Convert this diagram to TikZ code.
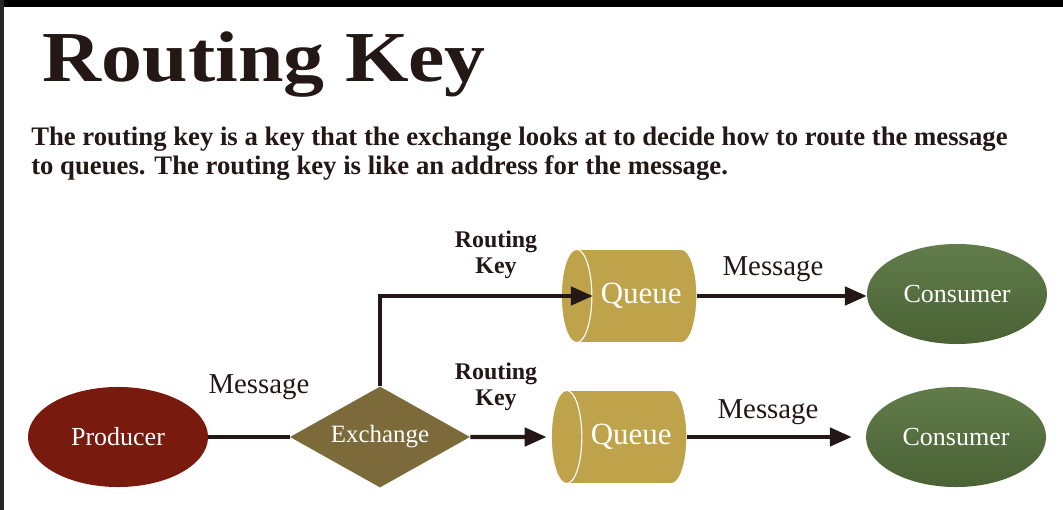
\documentclass[tikz,border=0pt]{standalone}
\usepackage{fontspec}
\setmainfont{Liberation Serif}
\newfontfamily\titlefont[FakeStretch=1.14]{Liberation Serif}
\usepackage{tikz}
\usetikzlibrary{calc}
\usetikzlibrary{positioning}
\usetikzlibrary{shapes.geometric}
\usetikzlibrary{arrows.meta}

\definecolor{ink}{HTML}{231815}
\definecolor{prodred}{HTML}{781A0D}
\definecolor{exchbrown}{HTML}{7C6A3B}
\definecolor{queuegold}{HTML}{BFA34B}
\definecolor{greentop}{HTML}{617C4A}
\definecolor{greenbot}{HTML}{4A6235}

\begin{document}
\begin{tikzpicture}[x=0.025cm,y=-0.025cm,
                    nodes={text=ink},
                    conn/.style={line width=2.85pt,draw=ink},
                    tip/.style={-{Triangle[length=15.5pt,width=13pt]}},
                    blob/.style={ellipse,minimum width=4.5cm,minimum height=2.5cm,
                                 inner sep=0pt,text=white,
                                 font=\fontsize{18.5}{20}\selectfont},
                    queuebox/.style={cylinder,shape border rotate=180,aspect=1.2,
                                     minimum width=2.33cm,minimum height=3.35cm,
                                     inner sep=0pt,fill=queuegold,draw=white,
                                     line width=0.8pt,text=white,
                                     font=\fontsize{22}{24}\selectfont},
                    msg/.style={anchor=base,font=\fontsize{20.5}{22}\selectfont},
                    rkey/.style={align=center,font=\bfseries\fontsize{17}{18.5}\selectfont}]
 \useasboundingbox (0,0) rectangle (1063,510);
 \fill[white] (0,0) rectangle (1063,510);
 \fill[black] (0,0) rectangle (1063,7);
 \fill[black!85] (0,0) rectangle (4,510);

 \node[anchor=base west,font=\titlefont\bfseries\fontsize{51}{56}\selectfont]
      (title) at (38,82) {Routing Key};
 \node[anchor=base west,align=left,inner sep=0pt,
       font=\bfseries\fontsize{19}{21.3}\selectfont] (intro) at (31,175)
      {The routing key is a key that the exchange looks at to decide how to route the message\\
       to queues. The routing key is like an address for the message.};

 \node[blob,fill=prodred] (prod) at (118,437) {Producer};
 \node[diamond,aspect=1.78,minimum width=4.5cm,minimum height=2.525cm,inner sep=0pt,
       fill=exchbrown,text=white,font=\fontsize{17.7}{19}\selectfont]
      (exch) at (380,437) {Exchange};
 \node[queuebox] (q1) at (637,296) {\hspace*{6pt}Queue};
 \node[queuebox] (q2) at (627,437) {\hspace*{6pt}Queue};
 \node[blob,top color=greentop,bottom color=greenbot] (c1) at (957,294) {Consumer};
 \node[blob,top color=greentop,bottom color=greenbot] (c2) at (956,437) {Consumer};

 \node[msg] (msgA) at (259,393) {Message};
 \node[msg] (msgB) at (773,276) {Message};
 \node[msg] (msgC) at (768,418) {Message};
 \node[rkey] (keyA) at (496,255) {Routing\\Key};
 \node[rkey] (keyB) at (496,387) {Routing\\Key};

 \draw[conn] (prod.east) -- (exch.west);
 \draw[conn,tip] (exch.north) |- ($(q1.west)+(32,0)$);
 \draw[conn,tip,shorten >=3pt] (exch.east) -- (q2.west);
 \draw[conn,tip] (q1.east) -- (q1.east -| c1.west);
 \draw[conn,tip,shorten >=10pt] (q2.east) -- (q2.east -| c2.west);
\end{tikzpicture}
\end{document}
